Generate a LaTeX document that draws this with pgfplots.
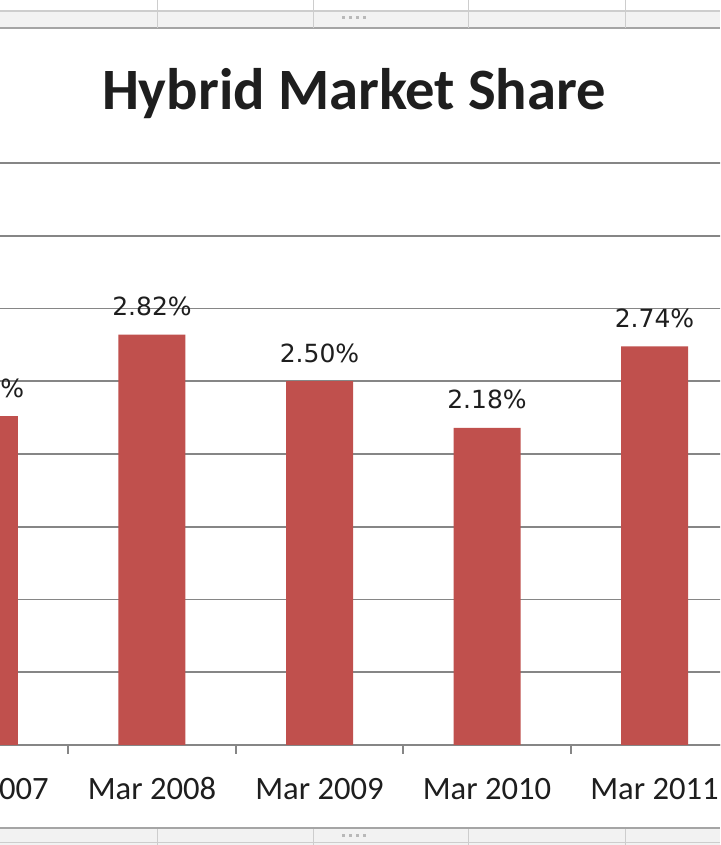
\documentclass[border=0pt]{standalone}
\usepackage{fontspec}
\setmainfont{Carlito}
\newfontfamily\dejavu{DejaVu Sans}
\usepackage{pgfplots}
\pgfplotsset{compat=1.18}
\definecolor{barred}{RGB}{192,80,77}
\definecolor{gridgray}{RGB}{134,134,134}
\definecolor{bandgray}{RGB}{242,242,242}
\definecolor{linegray}{RGB}{205,205,205}
\definecolor{darkline}{RGB}{165,165,165}
\definecolor{txt}{RGB}{30,30,30}
\begin{document}
\begin{tikzpicture}
\useasboundingbox (0,0) rectangle (360pt,422.5pt);
\clip (0,0) rectangle (360pt,422.5pt);
\fill[white] (0,0) rectangle (360pt,422.5pt);
\begin{axis}[
  at={(-49.625pt,50pt)}, anchor=south west,
  scale only axis, width=418.75pt, height=291pt,
  xmin=-0.5, xmax=4.5, ymin=0, ymax=4,
  xtick={0,1,2,3,4},
  xticklabels={Mar 2007,Mar 2008,Mar 2009,Mar 2010,Mar 2011},
  minor xtick={-0.5,0.5,1.5,2.5,3.5,4.5},
  ytick={0,0.5,...,4},
  yticklabels={},
  ymajorgrids,
  major grid style={gridgray, line width=0.9pt},
  major tick length=0pt,
  minor tick length=4.5pt,
  tick align=outside,
  axis x line*=bottom, axis y line*=left,
  y axis line style={draw=none},
  x axis line style={gridgray, line width=1pt},
  minor tick style={gridgray, line width=1pt},
  xticklabel style={font=\fontsize{16.3}{19}\selectfont, text=txt, anchor=base, yshift=-27.5pt, inner sep=0pt},
  ybar, bar width=33.5pt,
  /pgf/number format/assume math mode=true,
  nodes near coords={\pgfmathprintnumber[fixed,fixed zerofill,precision=2,assume math mode=true]{\pgfplotspointmeta}\%},
  nodes near coords style={font=\dejavu\fontsize{12.5}{15}\selectfont, text=txt, anchor=base, yshift=9.5pt, inner sep=0pt},
  clip=false,
]
\addplot[fill=barred, draw=none] coordinates {(0,2.26) (1,2.82) (2,2.50) (3,2.18) (4,2.74)};
\end{axis}
\node[font=\bfseries\fontsize{29.3}{34}\selectfont, text=txt, anchor=base] at (177pt,367.5pt) {Hybrid Market Share};
\begin{scope}[x=0.5pt,y=-0.5pt,shift={(0,422.5pt)}]
\fill[white] (0,0) rectangle (720,11);
\fill[bandgray] (0,11) rectangle (720,28);
\draw[linegray, line width=0.6pt] (0,11) -- (720,11);
\draw[darkline, line width=0.8pt] (0,28) -- (720,28);
\foreach \x in {157,313,468,625} \draw[linegray, line width=0.5pt] (\x,0) -- (\x,28);
\foreach \x in {343,350,357,364} \fill[gray!55] (\x-1.5,16.5) rectangle (\x+1.5,19.5);
\fill[bandgray] (0,829) rectangle (720,845);
\draw[darkline, line width=0.8pt] (0,828) -- (720,828);
\draw[linegray, line width=0.5pt] (0,843) -- (720,843);
\foreach \x in {157,313,468,625} \draw[linegray, line width=0.5pt] (\x,829) -- (\x,845);
\foreach \x in {343,350,357,364} \fill[gray!55] (\x-1.5,834) rectangle (\x+1.5,837);
\end{scope}
\end{tikzpicture}
\end{document}
